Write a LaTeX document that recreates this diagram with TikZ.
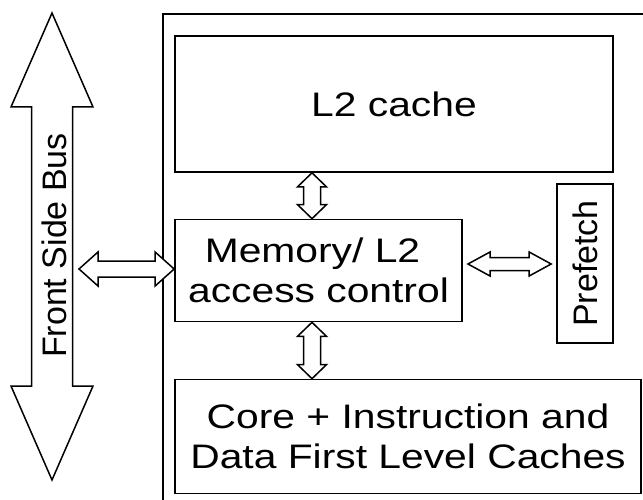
\documentclass[tikz,border=0pt]{standalone}
\usepackage{fontspec}
\setmainfont{Liberation Sans}
\newfontfamily\widefont[FakeStretch=1.2]{Liberation Sans}
\usetikzlibrary{calc}
\newcommand\myVArrow[5]{%
  \draw[blk] (#1) -- ($(#1)+(#4,#5)$) -- ($(#1)+(#3,#5)$) -- ($(#2)+(#3,-#5)$) -- ($(#2)+(#4,-#5)$) -- (#2)
    -- ($(#2)+(-#4,-#5)$) -- ($(#2)+(-#3,-#5)$) -- ($(#1)+(-#3,#5)$) -- ($(#1)+(-#4,#5)$) -- cycle;}
\newcommand\myHArrow[5]{%
  \draw[blk] (#1) -- ($(#1)+(#5,#4)$) -- ($(#1)+(#5,#3)$) -- ($(#2)+(-#5,#3)$) -- ($(#2)+(-#5,#4)$) -- (#2)
    -- ($(#2)+(-#5,-#4)$) -- ($(#2)+(-#5,-#3)$) -- ($(#1)+(#5,-#3)$) -- ($(#1)+(#5,-#4)$) -- cycle;}
\begin{document}
\begin{tikzpicture}[x=1pt,y=-1pt,
  blk/.style={draw=black,line width=1.5pt,line join=miter,fill=white},
  box/.style={draw=black,line width=1.7pt,inner sep=0pt,align=center,
    font=\widefont\fontsize{34}{40.5}\selectfont},
  vlabel/.style={inner sep=0pt,rotate=90,font=\fontsize{34}{40}\selectfont}]
\useasboundingbox (0,0) rectangle (643,500);
\clip (0,0) rectangle (643,500);
\fill[white] (0,0) rectangle (643,500);
% chip outline
\node[draw=black,line width=1.7pt,minimum width=520pt,minimum height=520pt,anchor=north west,inner sep=0pt] (chip) at (162,13) {};
% boxes
\node[box,minimum width=438pt,minimum height=136pt] (l2) at (394,104) {L2 cache};
\node[box,minimum width=287pt,minimum height=102pt] (mem) at (318.5,270.5) {Memory/ L2\hspace*{12pt}\\access control};
\node[draw=black,line width=1.7pt,inner sep=0pt,rotate=90,minimum width=159pt,minimum height=56pt,
  font=\fontsize{34}{40}\selectfont] (pre) at (585,263.5) {Prefetch};
\node[box,minimum width=466pt,minimum height=114pt] (core) at (408,436.5) {Core + Instruction and\\Data First Level Caches};
% front side bus
\coordinate (busTop) at (52,13);
\coordinate (busBot) at (52,480);
\myVArrow{busTop}{busBot}{20.5}{41}{94}
\node[vlabel] (fsb) at (54.5,245.5) {Front Side Bus};
% connectors
\coordinate (vx) at (312,0);
\myVArrow{l2.south -| vx}{mem.north -| vx}{8.5}{14.5}{14}
\myVArrow{mem.south -| vx}{core.north -| vx}{8.5}{14.5}{14}
\coordinate (busR) at (79,269);
\myHArrow{busR}{mem.west |- busR}{8}{17}{19}
\coordinate (preL) at (468,264);
\coordinate (preR) at ([xshift=-5pt]pre.north |- preL);
\myHArrow{preL}{preR}{6.5}{12}{22}
\end{tikzpicture}
\end{document}
